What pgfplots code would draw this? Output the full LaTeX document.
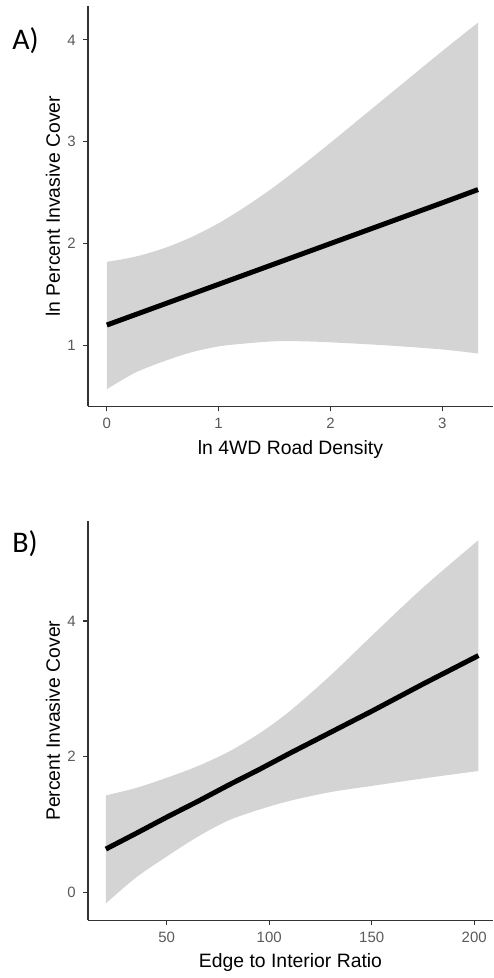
\documentclass[border=0pt]{standalone}
\usepackage{fontspec}
\setmainfont{Liberation Sans}
\newfontfamily\panelfont{Carlito}
\usepackage{pgfplots}
\usepackage{pgfplotstable}
\pgfplotsset{compat=1.18}
\usepgfplotslibrary{fillbetween}

\definecolor{band}{HTML}{D4D4D4}
\definecolor{axisgrey}{HTML}{333333}
\definecolor{ticktext}{HTML}{5A5A5A}

% panel A: ln 4WD road density vs ln percent invasive cover
\pgfplotstableread{
x     fit   lo    up
0     1.20  0.57  1.82
0.25  1.30  0.73  1.87
0.5   1.40  0.84  1.95
0.75  1.50  0.93  2.06
1.0   1.60  0.99  2.20
1.25  1.70  1.02  2.37
1.5   1.80  1.04  2.56
1.75  1.90  1.04  2.77
2.0   2.00  1.03  2.99
2.5   2.20  1.00  3.44
3.0   2.40  0.96  3.89
3.32  2.53  0.92  4.17
}\tabA

% panel B: edge to interior ratio vs percent invasive cover
\pgfplotstableread{
x      fit   lo     up
20.3   0.64  -0.16  1.43
35     0.87  0.22   1.54
50     1.11  0.53   1.69
65     1.34  0.82   1.86
80     1.58  1.06   2.07
95     1.81  1.22   2.34
110    2.05  1.35   2.67
130    2.36  1.48   3.20
150    2.67  1.57   3.78
175    3.07  1.68   4.49
202.1  3.49  1.79   5.19
}\tabB

\pgfplotsset{
  panel/.style={
    scale only axis, width=203pt,
    axis x line*=bottom, axis y line*=left,
    axis line style={axisgrey, line width=0.7pt},
    tick align=outside, major tick length=2.5pt,
    tick style={axisgrey, line width=0.6pt},
    tick label style={font=\fontsize{7.5}{9}\selectfont, text=ticktext},
    /pgf/number format/assume math mode=true,
    label style={font=\fontsize{9.7}{11}\selectfont},
    ylabel style={at={(axis description cs:-0.0862,0.5)}, anchor=center},
  },
}

\begin{document}
\begin{tikzpicture}

\begin{axis}[panel, at={(44pt,285.5pt)}, anchor=south west, height=200.5pt,
  xmin=-0.17, xmax=3.455, ymin=0.402, ymax=4.333,
  xtick={0,1,2,3}, ytick={1,2,3,4},
  xlabel={ln 4WD Road Density}, ylabel={ln Percent Invasive Cover},
  xlabel style={at={(axis description cs:0.5,-0.107)}, anchor=center}]
  \addplot[name path=upA, draw=none, smooth] table[x=x, y=up] {\tabA};
  \addplot[name path=loA, draw=none, smooth] table[x=x, y=lo] {\tabA};
  \addplot[band, draw=none] fill between[of=upA and loA];
  \addplot[black, line width=2.5pt] table[x=x, y=fit] {\tabA};
\end{axis}

\begin{axis}[panel, at={(44pt,28pt)}, anchor=south west, height=200pt,
  xmin=11.53, xmax=209.25, ymin=-0.41, ymax=5.47,
  xtick={50,100,150,200}, ytick={0,2,4},
  xlabel={Edge to Interior Ratio}, ylabel={Percent Invasive Cover},
  xlabel style={at={(axis description cs:0.5,-0.105)}, anchor=center}]
  \addplot[name path=upB, draw=none, smooth] table[x=x, y=up] {\tabB};
  \addplot[name path=loB, draw=none, smooth] table[x=x, y=lo] {\tabB};
  \addplot[band, draw=none] fill between[of=upB and loB];
  \addplot[black, line width=2.5pt] table[x=x, y=fit] {\tabB};
\end{axis}

\node[anchor=base west, inner sep=0pt, font=\panelfont\fontsize{15}{17}\selectfont] at (6pt,464pt) {A)};
\node[anchor=base west, inner sep=0pt, font=\panelfont\fontsize{15}{17}\selectfont] at (6pt,212.5pt) {B)};
\path (0,0) rectangle (247pt,489pt);
\end{tikzpicture}
\end{document}
